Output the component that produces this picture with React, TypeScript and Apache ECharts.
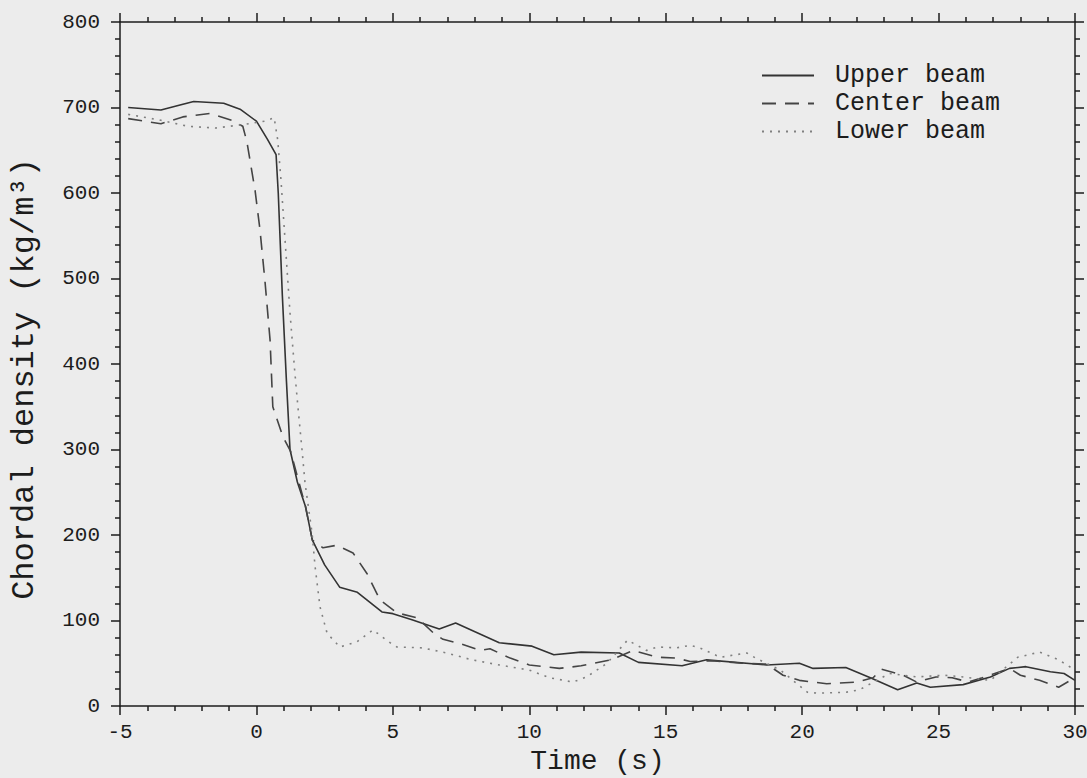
import React, { useEffect, useRef } from "react";
import * as echarts from "echarts";

const seriesNames = ["Upper beam", "Center beam", "Lower beam"];

const timeTicks = { min: -5, max: 30, step: 5 };
const densityTicks = { min: 0, max: 800, step: 100 };

const upperBeam: [number, number][] = [
  [-4.7, 700], [-3.5, 697], [-2.8, 703], [-2.3, 707], [-1.2, 705], [-0.6, 698],
  [0, 684], [0.4, 663], [0.72, 645], [0.8, 600], [0.95, 480], [1.1, 380],
  [1.23, 300], [1.5, 262], [1.8, 233], [2.05, 194], [2.5, 165], [3.05, 139],
  [3.7, 133], [4.6, 110], [5.0, 108], [5.7, 101], [6.7, 90], [7.3, 97],
  [8.9, 74], [10.1, 70], [10.9, 60], [11.9, 63], [13.3, 62], [14.0, 51],
  [15.6, 47], [16.5, 54], [18.7, 48], [19.9, 50], [20.4, 44], [21.6, 45],
  [22.5, 33], [23.5, 19], [24.2, 27], [24.7, 22], [25.9, 25], [26.9, 34],
  [27.6, 44], [28.2, 46], [29.1, 40], [29.6, 38], [30, 30],
];

const centerBeam: [number, number][] = [
  [-4.7, 687], [-3.5, 681], [-2.7, 689], [-1.7, 693], [-0.9, 685], [-0.5, 678],
  [-0.35, 660], [-0.05, 603], [0.13, 557], [0.31, 498], [0.5, 428], [0.6, 350],
  [0.97, 315], [1.25, 298], [1.8, 233], [2.05, 194], [2.44, 185], [2.95, 188],
  [3.54, 179], [4.05, 155], [4.53, 124], [5.15, 109], [5.9, 103], [6.5, 85],
  [6.84, 78], [7.46, 73], [8.2, 65], [8.56, 67], [9.3, 56], [10.0, 48],
  [11.1, 44], [11.9, 47], [13.0, 54], [13.8, 65], [14.7, 57], [15.4, 56],
  [15.9, 52], [16.7, 53], [17.8, 50], [18.7, 49], [19.3, 36], [19.9, 30],
  [20.9, 26], [22.0, 28], [22.6, 33], [22.9, 43], [23.7, 36], [24.2, 28],
  [24.9, 34], [25.5, 33], [26.1, 28], [26.6, 33], [27.6, 44], [28.0, 36],
  [28.7, 30], [29.4, 22], [30, 33],
];

const lowerBeam: [number, number][] = [
  [-4.7, 692], [-3.5, 685], [-2.5, 678], [-1.5, 676], [-0.5, 680], [0.3, 684],
  [0.65, 688], [0.78, 662], [0.9, 615], [1.23, 460], [1.4, 393], [1.52, 350],
  [1.67, 300], [1.78, 261], [2.04, 202], [2.15, 163], [2.33, 116], [2.59, 85],
  [3.06, 69], [3.68, 75], [4.27, 89], [4.9, 74], [5.15, 69], [6.1, 68],
  [6.96, 62], [7.9, 54], [8.9, 48], [10.0, 42], [10.76, 33], [11.6, 28],
  [12.1, 34], [12.85, 50], [13.6, 77], [14.3, 65], [14.7, 69], [15.4, 68],
  [15.9, 71], [16.25, 68], [17.0, 57], [17.97, 62], [18.3, 56], [19.2, 42],
  [20.2, 16], [20.6, 15], [21.6, 16], [22.1, 19], [23.2, 38], [24.2, 34],
  [25.2, 36], [25.9, 34], [26.9, 30], [27.9, 57], [28.7, 63], [29.4, 54],
  [30, 42],
];

const FONT = "'Liberation Mono', 'DejaVu Sans Mono', monospace";
const INK = "#1c1c1c";

function axisCommon(showLabels: boolean, margin: number) {
  return {
    axisLine: { show: true, onZero: false, lineStyle: { color: INK, width: 1.5 } },
    axisTick: { show: true, inside: false, length: 9, lineStyle: { color: INK, width: 1.5 } },
    minorTick: { show: true, splitNumber: 5, length: 5, lineStyle: { color: INK, width: 1.5 } },
    axisLabel: { show: showLabels, color: INK, fontFamily: FONT, fontSize: 21, margin },
    splitLine: { show: false },
    minorSplitLine: { show: false },
  };
}

export default function App() {
  const ref = useRef<HTMLDivElement>(null);
  useEffect(() => {
    const chart = echarts.init(ref.current!, null, { renderer: "svg" });
    const xBase = { type: "value", min: timeTicks.min, max: timeTicks.max, interval: timeTicks.step };
    const yBase = { type: "value", min: densityTicks.min, max: densityTicks.max, interval: densityTicks.step };
    chart.setOption({
      animation: false,
      backgroundColor: "transparent",
      grid: { left: 120, right: 12, top: 22, bottom: 72, containLabel: false, outerBoundsMode: "none" },
      legend: {
        orient: "vertical",
        left: 756,
        top: 58,
        itemWidth: 52,
        itemHeight: 14,
        itemGap: 3,
        data: seriesNames,
        itemStyle: { opacity: 0 },
        textStyle: { color: INK, fontFamily: FONT, fontSize: 25, padding: [0, 0, 0, 16] },
      },
      xAxis: [
        {
          ...xBase,
          position: "bottom",
          ...axisCommon(true, 16),
          name: "Time (s)",
          nameLocation: "middle",
          nameGap: 32,
          nameTextStyle: { color: INK, fontFamily: FONT, fontSize: 28 },
        },
        { ...xBase, position: "top", ...axisCommon(false, 8) },
      ],
      yAxis: [
        {
          ...yBase,
          position: "left",
          ...axisCommon(true, 20),
          name: "Chordal density (kg/m³)",
          nameLocation: "middle",
          nameGap: 80,
          nameTextStyle: { color: INK, fontFamily: FONT, fontSize: 32, padding: [0, 30, 0, 0] },
        },
        { ...yBase, position: "right", ...axisCommon(false, 8) },
      ],
      series: [
        {
          name: seriesNames[0],
          type: "line",
          data: upperBeam,
          symbol: "none",
          lineStyle: { color: "#333", width: 1.6, type: "solid" },
          itemStyle: { color: "#333" },
        },
        {
          name: seriesNames[1],
          type: "line",
          data: centerBeam,
          symbol: "none",
          lineStyle: { color: "#444", width: 1.6, type: [14, 9] },
          itemStyle: { color: "#444" },
        },
        {
          name: seriesNames[2],
          type: "line",
          data: lowerBeam,
          symbol: "none",
          lineStyle: { color: "#808080", width: 1.6, type: [2, 6] },
          itemStyle: { color: "#808080" },
        },
      ],
    });
    return () => chart.dispose();
  }, []);
  return (
    <div
      ref={ref}
      style={{ position: "fixed", left: 0, top: 0, width: 1087, height: 778, background: "#ececec" }}
    />
  );
}
